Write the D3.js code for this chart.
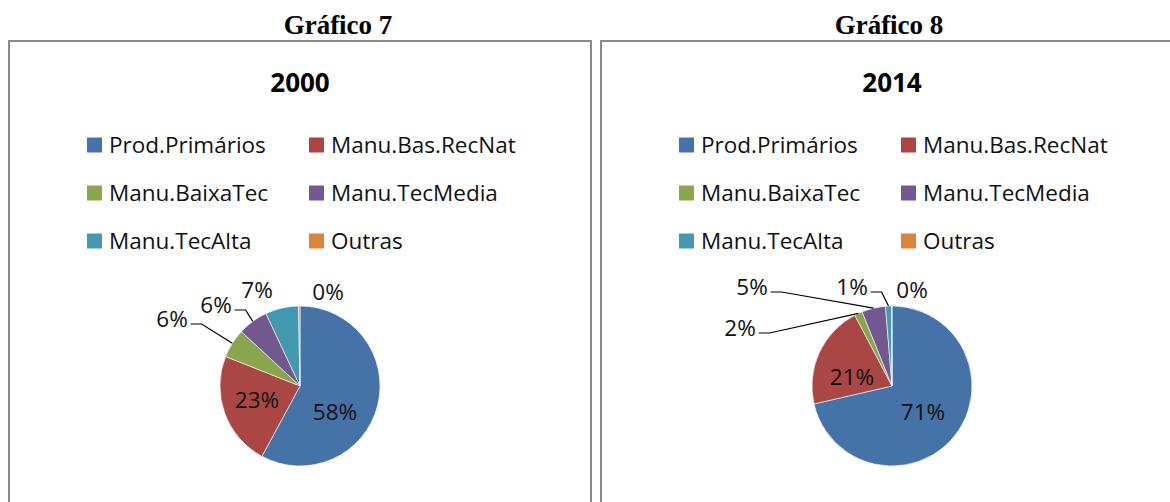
<!DOCTYPE html>
<html>
<head>
<meta charset="utf-8">
<script src="https://cdn.jsdelivr.net/npm/d3@7"></script>
<style>
  body { margin: 0; background: #fff; }
  svg { display: block; }
</style>
</head>
<body>
<svg id="chart" width="1170" height="502"></svg>
<script>
// export share by technology category (%)
var categories = ["Prod.Primários", "Manu.Bas.RecNat", "Manu.BaixaTec", "Manu.TecMedia", "Manu.TecAlta", "Outras"];
var values2000 = [57.9, 23.1, 5.9, 6.1, 6.7, 0.3];
var values2014 = [71.4, 20.9, 1.6, 4.8, 1.2, 0.1];
var headings = ["Gráfico 7", "Gráfico 8"];
var years = ["2000", "2014"];

var colors = ["#4572A7", "#AA4643", "#89A54E", "#71588F", "#4198AF", "#DB843D"];

// label layout (offset from pie centre) and which ones get a leader line
var labelPos2000 = [[35, 26], [-43, 14], [-128, -67], [-84, -81], [-43, -96], [28, -94]];
var labelPos2014 = [[31, 26], [-40, -9], [-152, -58], [-140, -99], [-40, -99], [20, -96]];
var leader2000 = [false, false, true, true, false, false];
var leader2014 = [false, false, true, true, true, false];

var svg = d3.select("#chart");
var radius = 80;
var font = "'Open Sans', sans-serif";

var pie = d3.pie().sort(null).value(function(d){ return d; });
var arc = d3.arc().innerRadius(0).outerRadius(radius);
var edgeArc = d3.arc().innerRadius(radius).outerRadius(radius);

function drawPanel(idx, values, labelPos, leaders){
    var shift = idx * 592;
    var g = svg.append("g").attr("transform", "translate(" + shift + ",0)");

    // document heading above the box
    svg.append("text")
        .attr("x", idx == 0 ? 338 : 889)
        .attr("y", 34)
        .attr("text-anchor", "middle")
        .style("font-family", "'Liberation Serif', 'Times New Roman', serif")
        .style("font-weight", "bold")
        .style("font-size", "27px")
        .text(headings[idx]);

    // chart border (open at the bottom, as in the cropped picture)
    g.append("path")
        .attr("d", "M9,502 V41 H591 V502")
        .attr("fill", "none")
        .attr("stroke", "#8a8a8a")
        .attr("stroke-width", 2);

    g.append("text")
        .attr("x", 300)
        .attr("y", 92)
        .attr("text-anchor", "middle")
        .style("font-family", font)
        .style("font-weight", "bold")
        .style("font-size", "26px")
        .text(years[idx]);

    // legend, two columns
    var leg = g.selectAll(".leg")
        .data(categories)
        .enter().append("g")
        .attr("class", "leg")
        .attr("transform", function(d, i){
            return "translate(" + (87 + (i % 2) * 222) + "," + (145 + Math.floor(i / 2) * 48) + ")";
        });
    leg.append("rect")
        .attr("x", 0).attr("y", -7.5)
        .attr("width", 15).attr("height", 15)
        .attr("fill", function(d, i){ return colors[i]; });
    leg.append("text")
        .attr("x", 22)
        .attr("dy", "0.36em")
        .style("font-family", font)
        .style("font-size", "22.5px")
        .attr("fill", "#111")
        .text(function(d){ return d; });

    var pg = g.append("g").attr("transform", "translate(300,386)");
    var arcs = pie(values);
    var total = d3.sum(values);

    pg.selectAll(".slice")
        .data(arcs)
        .enter().append("path")
        .attr("class", "slice")
        .attr("d", arc)
        .attr("fill", function(d, i){ return colors[i]; })
        .attr("stroke", "#fff")
        .attr("stroke-width", 0.6);

    // leader lines: short horizontal stub from the label, then to the slice edge
    arcs.forEach(function(d, i){
        if (!leaders[i]) return;
        var txt = Math.round(d.value / total * 100) + "%";
        var halfW = txt.length * 5.3 + 2;
        var x0 = labelPos[i][0] + halfW + 6;
        var y0 = labelPos[i][1] + 5;
        var e = edgeArc.centroid(d);
        pg.append("path")
            .attr("d", "M" + x0 + "," + y0 + " H" + (x0 + 11) + " L" + e[0] + "," + e[1])
            .attr("fill", "none")
            .attr("stroke", "#000")
            .attr("stroke-width", 1.2);
    });

    pg.selectAll(".lbl")
        .data(arcs)
        .enter().append("text")
        .attr("class", "lbl")
        .attr("x", function(d, i){ return labelPos[i][0]; })
        .attr("y", function(d, i){ return labelPos[i][1]; })
        .attr("dy", "0.36em")
        .attr("text-anchor", "middle")
        .style("font-family", font)
        .style("font-size", "22.5px")
        .attr("fill", "#111")
        .text(function(d){ return Math.round(d.value / total * 100) + "%"; });
}

drawPanel(0, values2000, labelPos2000, leader2000);
drawPanel(1, values2014, labelPos2014, leader2014);
</script>
</body>
</html>
